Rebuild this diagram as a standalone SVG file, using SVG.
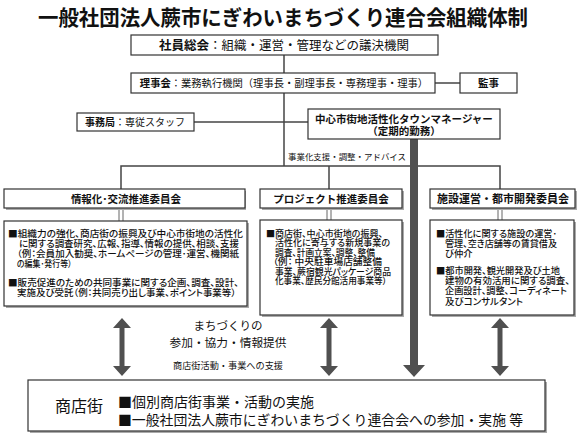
<svg xmlns="http://www.w3.org/2000/svg" width="580" height="444" viewBox="0 0 580 444">
<style>
text{font-family:"Noto Sans CJK JP","Noto Sans CJK SC",sans-serif;fill:#111;}
.box{fill:#fff;stroke:#333;stroke-width:1.2;}
.sh{fill:#aaa;}
.ln{stroke:#444;stroke-width:1.5;fill:none;}
.dl{stroke:#555;stroke-width:0.9;fill:none;}
.b{font-weight:bold;}
.arw{fill:#505050;}
.d{font-size:9.3px;font-weight:500;font-feature-settings:"palt";}
.d2{font-size:9px;font-weight:500;font-feature-settings:"palt";}
</style>
<rect width="580" height="444" fill="#fff"/>
<text x="283" y="25" font-size="21" class="b" text-anchor="middle" textLength="490" lengthAdjust="spacingAndGlyphs">一般社団法人蕨市にぎわいまちづくり連合会組織体制</text>

<g id="connectors">
<line class="ln" x1="284" y1="55" x2="284" y2="166"/>
<line class="ln" x1="435" y1="83" x2="460" y2="83"/>
<line class="ln" x1="194" y1="122" x2="308" y2="122"/>
<polyline class="ln" points="121,189 121,166 500,166 500,189"/>
<line class="ln" x1="329" y1="166" x2="329" y2="189"/>
<line class="dl" x1="119" y1="208" x2="119" y2="221"/>
<line class="dl" x1="123" y1="208" x2="123" y2="221"/>
<line class="dl" x1="327" y1="208" x2="327" y2="220"/>
<line class="dl" x1="331" y1="208" x2="331" y2="220"/>
<line class="dl" x1="498" y1="208" x2="498" y2="220"/>
<line class="dl" x1="502" y1="208" x2="502" y2="220"/>
<polygon class="arw" points="410,139 418,139 418,365 425,365 414,377 403,365 410,365"/>
<polygon class="arw" points="122,318 131,328 124.5,328 124.5,366 131,366 122,376 113,366 119.5,366 119.5,328 113,328"/>
<polygon class="arw" points="329,318 338,328 331.5,328 331.5,366 338,366 329,376 320,366 326.5,366 326.5,328 320,328"/>
<polygon class="arw" points="500,318 509,328 502.5,328 502.5,366 509,366 500,376 491,366 497.5,366 497.5,328 491,328"/>
<text x="288" y="160" font-size="8.5" textLength="118" lengthAdjust="spacingAndGlyphs">事業化支援・調整・アドバイス</text>
<text x="228" y="330" font-size="11.5" text-anchor="middle">まちづくりの</text>
<text x="228" y="347" font-size="11.5" text-anchor="middle" textLength="117" lengthAdjust="spacingAndGlyphs">参加・協力・情報提供</text>
<text x="228" y="369" font-size="9" text-anchor="middle" textLength="110" lengthAdjust="spacingAndGlyphs">商店街活動・事業への支援</text>
</g>

<g id="general-meeting">
<rect class="box" x="131" y="35" width="307" height="20"/>
<text x="284" y="49.5" font-size="12.5" text-anchor="middle"><tspan class="b">社員総会</tspan>：組織・運営・管理などの議決機関</text>
</g>
<g id="board">
<rect class="box" x="131" y="73" width="304" height="20"/>
<text x="284" y="87" font-size="10.3" text-anchor="middle"><tspan class="b">理事会</tspan>：業務執行機関（理事長・副理事長・専務理事・理事）</text>
</g>
<g id="auditor">
<rect class="box" x="460" y="73" width="57" height="20"/>
<text x="488.5" y="87" font-size="10.5" class="b" text-anchor="middle">監事</text>
</g>
<g id="secretariat">
<rect class="box" x="77" y="113" width="117" height="18"/>
<text x="135" y="126" font-size="10" text-anchor="middle"><tspan class="b">事務局</tspan>：専従スタッフ</text>
</g>
<g id="town-manager">
<rect class="box" x="308" y="109" width="192" height="30"/>
<text x="404" y="123" font-size="10.5" class="b" text-anchor="middle">中心市街地活性化タウンマネージャー</text>
<text x="404" y="135" font-size="10.5" class="b" text-anchor="middle">（定期的勤務）</text>
</g>

<g id="committee-info">
<rect class="sh" x="6" y="191" width="240" height="19"/>
<rect class="box" x="4" y="189" width="241" height="19"/>
<text x="126" y="202.5" font-size="10.5" class="b" text-anchor="middle">情報化･交流推進委員会</text>
<rect class="sh" x="6" y="223" width="243" height="85"/>
<rect class="box" x="4" y="221" width="243" height="85"/>
<text class="d" x="8" y="237" textLength="235" lengthAdjust="spacingAndGlyphs">■組織力の強化、商店街の振興及び中心市街地の活性化</text>
<text class="d" x="19" y="247" textLength="220" lengthAdjust="spacingAndGlyphs">に関する調査研究、広報、指導、情報の提供、相談、支援</text>
<text class="d" x="17" y="257" textLength="222" lengthAdjust="spacingAndGlyphs">（例：会員加入勧奨、ホームページの管理･運営、機関紙</text>
<text class="d" x="17" y="267" textLength="55" lengthAdjust="spacingAndGlyphs">の編集･発行等）</text>
<text class="d" x="8" y="286" textLength="231" lengthAdjust="spacingAndGlyphs">■販売促進のための共同事業に関する企画、調査、設計、</text>
<text class="d" x="17" y="296" textLength="219" lengthAdjust="spacingAndGlyphs">実施及び受託（例：共同売り出し事業、ポイント事業等）</text>
</g>

<g id="committee-project">
<rect class="sh" x="262" y="191" width="142" height="19"/>
<rect class="box" x="260" y="189" width="142" height="19"/>
<text x="331" y="202.5" font-size="10.5" class="b" text-anchor="middle">プロジェクト推進委員会</text>
<rect class="sh" x="262" y="222" width="142" height="95"/>
<rect class="box" x="260" y="220" width="142" height="95"/>
<text class="d2" x="266" y="236.5" textLength="117" lengthAdjust="spacingAndGlyphs">■商店街、中心市街地の振興、</text>
<text class="d2" x="275" y="246" textLength="115" lengthAdjust="spacingAndGlyphs">活性化に寄与する新規事業の</text>
<text class="d2" x="275" y="255.5" textLength="100" lengthAdjust="spacingAndGlyphs">調査、計画立案、調整、整備</text>
<text class="d2" x="273" y="265" textLength="109" lengthAdjust="spacingAndGlyphs">（例：  中央駐車場店舗整備</text>
<text class="d2" x="275" y="274.5" textLength="116" lengthAdjust="spacingAndGlyphs">事業、蕨宿観光パッケージ商品</text>
<text class="d2" x="275" y="284" textLength="112" lengthAdjust="spacingAndGlyphs">化事業、歴民分館活用事業等）</text>
</g>

<g id="committee-facility">
<rect class="sh" x="432" y="191" width="145" height="19"/>
<rect class="box" x="430" y="189" width="145" height="19"/>
<text x="503" y="202.5" font-size="11" class="b" text-anchor="middle">施設運営・都市開発委員会</text>
<rect class="sh" x="432" y="222" width="144" height="95"/>
<rect class="box" x="430" y="220" width="144" height="95"/>
<text class="d" x="436" y="236.5" textLength="121" lengthAdjust="spacingAndGlyphs">■活性化に関する施設の運営･</text>
<text class="d" x="445" y="246.5" textLength="112" lengthAdjust="spacingAndGlyphs">管理、空き店舗等の賃貸借及</text>
<text class="d" x="445" y="257">び仲介</text>
<text class="d" x="436" y="273.5" textLength="124" lengthAdjust="spacingAndGlyphs">■都市開発、観光開発及び土地</text>
<text class="d" x="445" y="283.5" textLength="125" lengthAdjust="spacingAndGlyphs">建物の有効活用に関する調査、</text>
<text class="d" x="445" y="294" textLength="122" lengthAdjust="spacingAndGlyphs">企画設計、調整、コーディネート</text>
<text class="d" x="445" y="304.5" textLength="78" lengthAdjust="spacingAndGlyphs">及びコンサルタント</text>
</g>

<g id="shopping-streets">
<rect class="sh" x="30" y="382" width="517" height="51"/>
<rect class="box" x="28" y="380" width="517" height="51"/>
<text x="55" y="412" font-size="16">商店街</text>
<text x="118" y="407" font-size="14">■個別商店街事業・活動の実施</text>
<text x="118" y="425" font-size="14" textLength="405" lengthAdjust="spacingAndGlyphs">■一般社団法人蕨市にぎわいまちづくり連合会への参加・実施 等</text>
</g>
</svg>
